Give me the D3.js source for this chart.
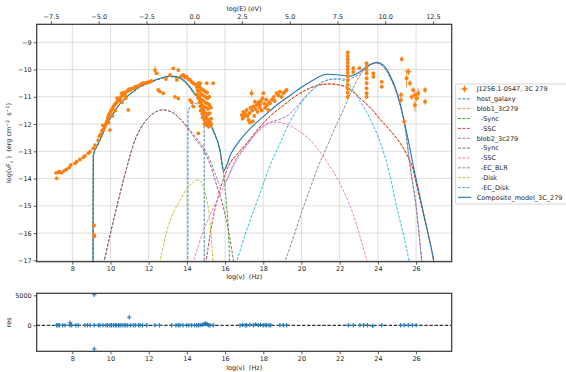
<!DOCTYPE html>
<html><head><meta charset="utf-8">
<script src="https://cdn.jsdelivr.net/npm/d3@7"></script>
<style>body{margin:0;background:#fff}svg{font-family:"DejaVu Sans",sans-serif}</style>
</head><body><svg id="c" width="566" height="372"></svg>
<script>
// ---------------- DATA ----------------
const xTicks = [8,10,12,14,16,18,20,22,24,26];
const yTicks = [-9,-10,-11,-12,-13,-14,-15,-16,-17];
const topTicks = [-7.5,-5.0,-2.5,0.0,2.5,5.0,7.5,10.0,12.5];
const resTicks = [0,5000];
const legendLabels = ["J1256.1-0547, 3C 279","host_galaxy","blob1_3c279","  -Sync","  -SSC","blob2_3c279","  -Sync","  -SSC","  -EC_BLR","  -Disk","  -EC_Disk","Composite_model_3C_279"];

const hostGalaxy = [[14.05,-17.6],[14.06,-11.55],[14.2,-11.35],[14.45,-11.25],[14.7,-11.35],[14.9,-11.8],[14.91,-17.6]];
const blob1Sync = [[9.08,-17.6],[9.1,-13.16],[9.3,-12.81],[9.54,-12.46],[9.8,-12.01],[10.15,-11.61],[10.5,-11.26],[10.85,-11.01],[11.2,-10.81],[11.54,-10.64],[11.9,-10.53],[12.24,-10.43],[12.7,-10.32],[13.12,-10.26],[13.5,-10.29],[13.81,-10.41],[14.1,-10.62],[14.34,-10.86],[14.69,-11.19],[15.04,-11.77],[15.38,-12.26],[15.73,-12.99],[15.92,-13.8],[16.08,-15.03],[16.18,-16.0],[16.26,-17.6]];
const blob1Total = [[9.08,-17.6],[9.1,-13.16],[9.3,-12.81],[9.54,-12.46],[9.8,-12.01],[10.15,-11.61],[10.5,-11.26],[10.85,-11.01],[11.2,-10.81],[11.54,-10.64],[11.9,-10.53],[12.24,-10.43],[12.7,-10.32],[13.12,-10.26],[13.5,-10.29],[13.81,-10.41],[14.1,-10.62],[14.34,-10.86],[14.69,-11.19],[15.04,-11.77],[15.38,-12.26],[15.73,-12.98],[15.9,-13.74],[16.1,-13.55],[16.25,-13.44],[16.7,-13.05],[17.13,-12.71],[17.6,-12.3],[18.0,-11.97],[18.5,-11.62],[18.87,-11.42],[19.4,-11.12],[19.9,-10.88],[20.44,-10.68],[21.0,-10.56],[21.5,-10.53],[22.0,-10.57],[22.4,-10.66],[22.8,-10.88],[23.06,-11.05],[23.6,-11.4],[24.11,-11.82],[24.6,-12.2],[25.07,-12.6],[25.5,-13.1],[25.85,-13.69],[26.1,-14.45],[26.38,-15.3],[26.65,-16.1],[26.9,-16.93],[27.05,-17.6]];
const blob1SSC = [[14.9,-17.6],[15.3,-15.7],[15.7,-14.5],[16.0,-13.85],[16.25,-13.44],[16.7,-13.05],[17.13,-12.71],[17.6,-12.3],[18.0,-11.97],[18.5,-11.62],[18.87,-11.42],[19.4,-11.12],[19.9,-10.88],[20.44,-10.68],[21.0,-10.56],[21.5,-10.53],[22.0,-10.57],[22.4,-10.66],[22.8,-10.88],[23.06,-11.05],[23.6,-11.4],[24.11,-11.82],[24.6,-12.2],[25.07,-12.6],[25.5,-13.1],[25.85,-13.69],[26.1,-14.45],[26.38,-15.3],[26.65,-16.1],[26.9,-16.93],[27.05,-17.6]];
const blob2Total = [[9.48,-17.6],[9.66,-17.05],[10.0,-16.0],[10.41,-14.8],[10.85,-13.6],[11.28,-12.59],[11.7,-12.02],[12.2,-11.63],[12.76,-11.48],[13.3,-11.6],[13.99,-12.08],[14.42,-12.45],[14.86,-12.85],[15.2,-13.3],[15.5,-13.85],[15.75,-14.25],[16.0,-14.15],[16.5,-13.38],[17.13,-12.75],[17.7,-12.25],[18.18,-11.98],[18.7,-11.86],[19.2,-11.72],[19.5,-11.55],[19.8,-11.32],[20.2,-11.0],[20.62,-10.7],[21.0,-10.5],[21.5,-10.36],[22.0,-10.34],[22.4,-10.36],[22.8,-10.26],[23.06,-10.15],[23.4,-9.92],[23.7,-9.79],[23.94,-9.76],[24.3,-9.9],[24.63,-10.26],[25.07,-11.05],[25.42,-12.1],[25.7,-13.6],[26.0,-15.0],[26.3,-17.05],[26.38,-17.6]];
const blob2Sync = [[9.48,-17.6],[9.66,-17.05],[10.0,-16.0],[10.41,-14.8],[10.85,-13.6],[11.28,-12.59],[11.7,-12.02],[12.2,-11.63],[12.76,-11.48],[13.3,-11.6],[13.99,-12.1],[14.42,-12.52],[14.86,-12.95],[15.2,-13.45],[15.56,-14.25],[15.9,-15.03],[16.2,-16.0],[16.45,-17.05],[16.58,-17.6]];
const blob2SSC = [[14.07,-17.6],[14.33,-17.05],[14.8,-16.05],[15.3,-15.2],[15.9,-14.35],[16.5,-13.45],[17.13,-12.8],[17.7,-12.3],[18.18,-12.03],[18.7,-11.93],[19.2,-12.0],[19.8,-12.22],[20.62,-12.71],[21.3,-13.35],[22.02,-14.2],[22.7,-15.3],[23.45,-17.05],[23.7,-17.6]];
const blob2ECBLR = [[18.87,-17.6],[19.14,-17.05],[19.6,-16.1],[20.0,-15.25],[20.44,-14.38],[20.88,-13.55],[21.4,-12.72],[21.9,-11.92],[22.19,-11.48],[22.6,-10.82],[23.06,-10.22],[23.4,-9.93],[23.7,-9.8],[23.94,-9.77],[24.3,-9.91],[24.63,-10.28],[25.07,-11.07],[25.42,-12.12],[25.7,-13.65],[26.0,-15.05],[26.3,-17.05],[26.38,-17.6]];
const blob2Disk = [[12.52,-17.6],[12.6,-17.05],[12.76,-16.5],[13.0,-15.8],[13.29,-15.25],[13.64,-14.8],[13.99,-14.38],[14.3,-14.15],[14.6,-14.05],[14.86,-14.3],[15.05,-14.8],[15.2,-15.5],[15.3,-16.4],[15.36,-17.05],[15.4,-17.6]];
const blob2ECDisk = [[16.35,-17.6],[16.6,-17.05],[17.2,-15.75],[17.83,-14.54],[18.26,-13.69],[18.87,-12.71],[19.3,-12.05],[19.75,-11.48],[20.2,-11.02],[20.62,-10.72],[21.1,-10.47],[21.66,-10.35],[22.19,-10.4],[22.71,-10.75],[23.06,-11.15],[23.58,-11.79],[24.11,-12.65],[24.6,-13.8],[24.98,-15.03],[25.35,-16.1],[25.64,-17.05],[25.8,-17.6]];
const composite = [[9.08,-17.6],[9.1,-13.15],[9.3,-12.8],[9.54,-12.45],[9.8,-12.0],[10.15,-11.6],[10.5,-11.25],[10.85,-11.0],[11.2,-10.8],[11.54,-10.63],[11.9,-10.52],[12.24,-10.41],[12.7,-10.3],[13.12,-10.24],[13.5,-10.27],[13.81,-10.38],[14.1,-10.58],[14.34,-10.81],[14.69,-11.12],[15.04,-11.73],[15.38,-12.22],[15.73,-12.95],[15.92,-13.7],[16.3,-13.1],[16.78,-12.59],[17.4,-12.1],[18.0,-11.73],[18.7,-11.3],[19.4,-10.95],[20.0,-10.65],[20.62,-10.38],[21.32,-10.17],[22.02,-10.2],[22.54,-10.24],[23.06,-10.08],[23.5,-9.85],[23.94,-9.73],[24.3,-9.85],[24.63,-10.2],[25.07,-11.0],[25.42,-12.03],[25.65,-12.8],[25.9,-13.7],[26.15,-14.5],[26.4,-15.3],[26.65,-16.1],[26.9,-16.93],[27.05,-17.6]];

// observed SED points [log nu, log nuFnu]
const radioPts = [[7.15,-13.79],[7.18,-13.99],[7.25,-13.77],[7.32,-13.75],[7.45,-13.79],[7.58,-13.71],[7.7,-13.66],[7.84,-13.59],[7.92,-13.5],[8.14,-13.44],[8.23,-13.38],[8.4,-13.3],[8.58,-13.22],[8.66,-13.17],[8.84,-13.07],[8.93,-13.01],[9.1,-12.89],[9.19,-12.77],[9.14,-15.72],[9.14,-16.07],[9.16,-16.12]];
const mmIrPts = [[9.36,-12.6],[9.42,-12.45],[9.48,-12.38],[9.55,-12.25],[9.6,-12.05],[9.62,-12.2],[9.7,-12.1],[9.75,-12.0],[9.8,-11.91],[9.85,-11.8],[9.88,-11.73],[9.9,-11.95],[9.93,-11.65],[9.97,-11.6],[9.97,-12.22],[10.02,-11.52],[10.08,-11.45],[10.1,-11.7],[10.15,-11.36],[10.2,-11.3],[10.25,-11.5],[10.28,-11.25],[10.32,-11.2],[10.35,-11.05],[10.4,-11.15],[10.45,-11.08],[10.5,-11.12],[10.55,-11.0],[10.59,-10.87],[10.6,-11.2],[10.65,-10.95],[10.7,-10.85],[10.76,-10.93],[10.8,-11.05],[10.85,-10.81],[10.9,-10.78],[10.93,-11.48],[10.95,-10.72],[11.02,-10.75],[11.1,-10.7],[11.19,-10.69],[11.28,-10.64],[11.37,-10.63],[11.45,-10.6],[11.54,-10.57],[11.63,-10.52],[11.72,-10.5],[11.8,-10.5],[11.9,-10.48],[11.98,-10.46],[12.07,-10.45],[12.15,-10.42]];
const irPts = [[12.33,-10.02],[12.42,-10.14],[12.5,-10.75],[12.59,-10.81],[12.76,-10.87],[12.9,-10.35],[13.12,-10.2],[13.29,-9.96],[13.47,-10.38],[13.38,-11.0],[13.55,-10.02],[13.55,-11.06],[13.7,-10.25],[13.81,-10.2],[13.9,-10.3],[13.99,-10.26],[14.08,-10.35],[14.16,-10.38],[14.25,-10.45],[14.34,-10.5],[14.16,-11.12],[14.25,-11.2],[14.34,-11.36]];
const optPts = [[14.45,-10.55],[14.51,-10.63],[14.55,-10.75],[14.55,-10.9],[14.6,-10.5],[14.6,-11.05],[14.65,-10.62],[14.65,-10.8],[14.65,-11.0],[14.65,-11.2],[14.69,-10.5],[14.7,-11.35],[14.72,-11.5],[14.75,-10.7],[14.75,-10.9],[14.75,-11.1],[14.78,-11.3],[14.8,-11.45],[14.8,-11.62],[14.82,-11.75],[14.85,-10.75],[14.85,-10.95],[14.88,-11.15],[14.88,-11.35],[14.9,-11.55],[14.9,-11.7],[14.92,-11.85],[14.92,-12.0],[14.95,-10.8],[14.97,-11.0],[14.98,-11.22],[15.0,-11.4],[15.0,-11.6],[15.02,-11.8],[15.02,-11.95],[15.04,-10.5],[15.05,-12.05],[15.06,-10.85],[15.08,-11.05],[15.08,-11.25],[15.1,-11.45],[15.1,-11.65],[15.12,-11.85],[15.12,-12.0],[15.15,-12.1],[15.17,-11.0],[15.18,-11.3],[15.2,-11.6],[15.2,-11.9],[15.22,-12.05],[15.26,-11.4],[15.27,-11.8],[15.28,-12.0],[15.38,-10.5],[14.6,-12.34]];
const xrayPts = [[16.87,-11.67],[16.92,-11.8],[16.95,-11.55],[17.0,-11.72],[17.05,-11.6],[17.13,-11.48],[17.18,-11.7],[17.22,-11.85],[17.28,-11.6],[17.3,-11.95],[17.33,-11.4],[17.39,-10.87],[17.42,-11.5],[17.45,-11.9],[17.48,-11.35],[17.52,-11.7],[17.56,-11.18],[17.6,-11.45],[17.65,-11.3],[17.7,-11.55],[17.75,-11.2],[17.8,-11.4],[17.83,-11.3],[17.88,-11.15],[17.92,-11.5],[17.96,-11.05],[18.0,-10.87],[18.05,-11.25],[18.1,-11.4],[18.15,-11.1],[18.2,-11.3],[18.26,-11.48],[18.3,-11.2],[18.35,-11.24],[18.45,-11.1],[18.55,-11.0],[18.6,-11.15],[18.7,-10.87],[18.8,-10.95],[18.87,-10.81],[18.95,-11.0],[19.05,-10.87],[19.15,-10.8],[19.22,-10.75]];
const gammaPts = [[22.42,-9.37],[22.42,-9.5],[22.42,-9.62],[22.42,-9.75],[22.42,-9.88],[22.42,-10.0],[22.42,-10.12],[22.42,-10.25],[22.42,-10.4],[22.42,-10.55],[22.42,-10.7],[22.42,-10.85],[22.42,-11.0],[22.71,-9.95],[22.71,-10.09],[23.03,-9.95],[23.41,-9.77],[23.41,-9.9],[23.41,-10.02],[23.41,-10.14],[23.41,-10.32],[23.41,-10.5],[23.41,-10.69],[23.41,-10.87],[23.41,-11.0],[23.76,-10.14],[23.76,-10.26],[24.2,-10.45],[24.2,-10.63]];
const tevPts = [[25.21,-10.93],[25.21,-11.12],[25.25,-9.62],[25.38,-11.91],[25.5,-10.32],[25.6,-10.08],[25.68,-10.5],[25.77,-11.0],[25.85,-10.75],[25.94,-10.93],[25.94,-11.3],[26.03,-11.06],[26.11,-10.87],[26.47,-10.75],[26.47,-11.18]];
// [xerr, yerr] per group
const radioErr = [0.0, 0.03], mmIrErr = [0.0, 0.04], irErr = [0.0, 0.05], optErr = [0.0, 0.04];
const xrayErr = [0.03, 0.07], gammaErr = [0.07, 0.07], tevErr = [0.1, 0.12];
// individual larger error bars [x, y, xerr, yerr]
const bigErr = [[12.33,-10.02,0,0.18],[25.6,-10.08,0.19,0.1],[25.5,-10.32,0.05,0.35],[25.94,-11.3,0.05,0.25],[26.11,-10.87,0.05,0.2],[17.39,-10.87,0,0.15],[9.14,-15.72,0,0.08]];

// residuals [log nu, res]
const resid = [[7.18,20],[7.25,0],[7.32,0],[7.5,10],[7.62,0],[7.88,430],[7.88,0],[7.97,0],[8.19,0],[8.31,0],[8.66,0],[8.79,0],[8.93,0],[9.15,5100],[9.15,-3950],[9.15,0],[9.36,0],[9.45,0],[9.6,0],[9.76,0],[9.85,0],[9.97,0],[10.05,0],[10.15,0],[10.25,0],[10.32,0],[10.42,0],[10.5,0],[10.6,0],[10.71,0],[10.8,0],[10.9,0],[10.98,1330],[11.05,0],[11.19,0],[11.3,0],[11.46,0],[11.55,0],[11.68,0],[11.9,0],[12.33,0],[12.56,0],[13.2,0],[13.43,0],[13.55,0],[13.64,0],[13.8,0],[13.99,0],[14.1,0],[14.25,0],[14.4,0],[14.51,0],[14.6,0],[14.69,50],[14.8,100],[14.9,200],[14.95,300],[15.0,250],[15.07,150],[15.15,0],[15.21,0],[15.38,0],[16.78,0],[16.92,100],[17.05,0],[17.13,0],[17.3,100],[17.48,0],[17.6,150],[17.74,0],[17.85,100],[18.0,0],[18.1,50],[18.18,0],[18.3,0],[18.39,0],[18.87,0],[19.05,0],[19.22,0],[22.45,0],[22.71,0],[23.06,0],[23.24,0],[23.45,0],[23.73,-100],[24.2,0],[25.19,0],[25.37,0],[25.59,0],[25.82,0],[26.0,0]];

// ---------------- DRAW ----------------
const svg = d3.select("#c");
const X0=36.7, X1=451.7, Y0=24.3, Y1=261.7, RY0=293.3, RY1=351.3;
const hEV = 14.383;
const x = d3.scaleLinear().domain([6.136,27.864]).range([X0,X1]);
const xt = d3.scaleLinear().domain([6.136-hEV,27.864-hEV]).range([X0,X1]);
const y = d3.scaleLinear().domain([-17.05,-8.34]).range([Y1,Y0]);
const yr = d3.scaleLinear().domain([-4333,5333]).range([RY1,RY0]);
const FS = 6.5, TXT = "#262626", SP = "#333";

const defs = svg.append("defs");
defs.append("clipPath").attr("id","cm").append("rect").attr("x",X0).attr("y",Y0).attr("width",X1-X0).attr("height",Y1-Y0);
defs.append("clipPath").attr("id","cr").append("rect").attr("x",X0).attr("y",RY0).attr("width",X1-X0).attr("height",RY1-RY0);

// grid
const g = svg.append("g");
g.selectAll(".gx").data(xTicks).join("line").attr("x1",d=>x(d)).attr("x2",d=>x(d)).attr("y1",Y0).attr("y2",Y1).attr("stroke","#d9d9d9").attr("stroke-width",0.9);
g.selectAll(".gy").data(yTicks).join("line").attr("x1",X0).attr("x2",X1).attr("y1",d=>y(d)).attr("y2",d=>y(d)).attr("stroke","#d9d9d9").attr("stroke-width",0.9);

function styleAxis(sel){
  sel.select(".domain").remove();
  sel.selectAll(".tick line").attr("stroke",SP).attr("stroke-width",0.8);
  sel.selectAll(".tick text").attr("font-size",FS).attr("fill",TXT).attr("font-family","DejaVu Sans");
}
svg.append("g").attr("transform",`translate(0,${Y1})`).call(d3.axisBottom(x).tickValues(xTicks).tickSize(3).tickPadding(2).tickFormat(d3.format("d"))).call(styleAxis);
svg.append("g").attr("transform",`translate(0,${Y0})`).call(d3.axisTop(xt).tickValues(topTicks).tickSize(3).tickPadding(2).tickFormat(d3.format(".1f"))).call(styleAxis);
svg.append("g").attr("transform",`translate(${X0},0)`).call(d3.axisLeft(y).tickValues(yTicks).tickSize(3).tickPadding(2).tickFormat(d3.format("d"))).call(styleAxis);
svg.append("g").attr("transform",`translate(0,${RY1})`).call(d3.axisBottom(x).tickValues(xTicks).tickSize(3).tickPadding(2).tickFormat(d3.format("d"))).call(styleAxis);
svg.append("g").attr("transform",`translate(${X0},0)`).call(d3.axisLeft(yr).tickValues(resTicks).tickSize(3).tickPadding(2).tickFormat(d3.format("d"))).call(styleAxis);

// model curves
const line = d3.line().x(d=>x(d[0])).y(d=>y(d[1])).curve(d3.curveMonotoneX);
const cg = svg.append("g").attr("clip-path","url(#cm)");
const comps = [
  [hostGalaxy,"#1f77b4",true],[blob1Total,"#ff7f0e",true],[blob1Sync,"#2ca02c",true],[blob1SSC,"#d62728",true],
  [blob2Total,"#9467bd",true],[blob2Sync,"#8c564b",true],[blob2SSC,"#e377c2",true],[blob2ECBLR,"#7f7f7f",true],
  [blob2Disk,"#bcbd22",true],[blob2ECDisk,"#17becf",true],[composite,"#1f77b4",false]
];
comps.forEach(([data,col,dash])=>{
  cg.append("path").attr("d",line(data)).attr("fill","none").attr("stroke",col)
    .attr("stroke-width",dash?0.9:1.1).attr("stroke-dasharray",dash?"3,1.4":null);
});

// data points with error bars
const OR = "#ff7f0e";
const pg = svg.append("g").attr("clip-path","url(#cm)");
function drawErr(pts, err){
  pts.forEach(p=>{
    const xe = p.length>2?p[2]:err[0], ye = p.length>3?p[3]:err[1];
    if(ye>0) pg.append("line").attr("x1",x(p[0])).attr("x2",x(p[0])).attr("y1",y(p[1]-ye)).attr("y2",y(p[1]+ye)).attr("stroke",OR).attr("stroke-width",0.9).attr("opacity",0.8);
    if(xe>0) pg.append("line").attr("x1",x(p[0]-xe)).attr("x2",x(p[0]+xe)).attr("y1",y(p[1])).attr("y2",y(p[1])).attr("stroke",OR).attr("stroke-width",0.9).attr("opacity",0.8);
  });
}
[[radioPts,radioErr],[mmIrPts,mmIrErr],[irPts,irErr],[optPts,optErr],[xrayPts,xrayErr],[gammaPts,gammaErr],[tevPts,tevErr]].forEach(([p,e])=>drawErr(p,e));
drawErr(bigErr,[0,0]);
const allPts = [].concat(radioPts,mmIrPts,irPts,optPts,xrayPts,gammaPts,tevPts);
pg.selectAll("circle").data(allPts).join("circle").attr("cx",d=>x(d[0])).attr("cy",d=>y(d[1])).attr("r",1.9).attr("fill",OR);

// residuals
const rg = svg.append("g").attr("clip-path","url(#cr)");
rg.append("line").attr("x1",X0).attr("x2",X1).attr("y1",yr(0)).attr("y2",yr(0)).attr("stroke","#000").attr("stroke-width",1).attr("stroke-dasharray","3.5,1.6");
resid.forEach(d=>{
  const cx=x(d[0]), cy=yr(d[1]);
  rg.append("line").attr("x1",cx-2.2).attr("x2",cx+2.2).attr("y1",cy).attr("y2",cy).attr("stroke","#1f77b4").attr("stroke-width",1.1);
  rg.append("line").attr("x1",cx).attr("x2",cx).attr("y1",cy-2.2).attr("y2",cy+2.2).attr("stroke","#1f77b4").attr("stroke-width",1.1);
});

// spines
[[Y0,Y1],[RY0,RY1]].forEach(([a,b])=>{
  svg.append("rect").attr("x",X0).attr("y",a).attr("width",X1-X0).attr("height",b-a).attr("fill","none").attr("stroke",SP).attr("stroke-width",1.2);
});

// axis labels
svg.append("text").attr("x",(X0+X1)/2).attr("y",11).attr("text-anchor","middle").attr("font-size",FS).attr("fill",TXT).text("log(E) (eV)");
svg.append("text").attr("x",(X0+X1)/2).attr("y",279).attr("text-anchor","middle").attr("font-size",FS).attr("fill",TXT).style("white-space","pre").text("log(\u03bd)  (Hz)");
svg.append("text").attr("x",(X0+X1)/2).attr("y",370).attr("text-anchor","middle").attr("font-size",FS).attr("fill",TXT).style("white-space","pre").text("log(\u03bd)  (Hz)");
const yl = svg.append("text").attr("transform",`translate(11,${(Y0+Y1)/2}) rotate(-90)`).attr("text-anchor","middle").attr("font-size",FS).attr("fill",TXT).style("white-space","pre");
yl.append("tspan").text("log(\u03bdF");
yl.append("tspan").attr("font-size",4.6).attr("dy",1.5).text("\u03bd");
yl.append("tspan").attr("dy",-1.5).text(" )  (erg cm");
yl.append("tspan").attr("font-size",4.6).attr("dy",-2.5).text("\u22122");
yl.append("tspan").attr("dy",2.5).text("  s");
yl.append("tspan").attr("font-size",4.6).attr("dy",-2.5).text("\u22121");
yl.append("tspan").attr("dy",2.5).text(")");
svg.append("text").attr("transform",`translate(11,${(RY0+RY1)/2}) rotate(-90)`).attr("text-anchor","middle").attr("font-size",FS).attr("fill",TXT).text("res");

// legend
const LX=455.3, LY=84, LH=120, step=9.85;
const lg = svg.append("g");
lg.append("rect").attr("x",LX).attr("y",LY).attr("width",130).attr("height",LH).attr("rx",2).attr("fill","#fff").attr("fill-opacity",0.8).attr("stroke","#cccccc").attr("stroke-width",0.8);
const legStyles = [null].concat(comps.map(c=>[c[1],c[2]]));
legendLabels.forEach((lab,i)=>{
  const cy = LY+5+i*step;
  if(i===0){
    lg.append("line").attr("x1",460.5).attr("x2",468.5).attr("y1",cy).attr("y2",cy).attr("stroke",OR).attr("stroke-width",0.9);
    lg.append("line").attr("x1",464.5).attr("x2",464.5).attr("y1",cy-3.5).attr("y2",cy+3.5).attr("stroke",OR).attr("stroke-width",0.9);
    lg.append("circle").attr("cx",464.5).attr("cy",cy).attr("r",1.9).attr("fill",OR);
  } else {
    const [col,dash]=legStyles[i];
    lg.append("line").attr("x1",458).attr("x2",471).attr("y1",cy).attr("y2",cy).attr("stroke",col).attr("stroke-width",dash?0.9:1.1).attr("stroke-dasharray",dash?"3,1.4":null);
  }
  lg.append("text").attr("x",476.7).attr("y",cy+2.3).attr("font-size",FS).attr("fill",TXT).style("white-space","pre").text(lab);
});
</script></body></html>
